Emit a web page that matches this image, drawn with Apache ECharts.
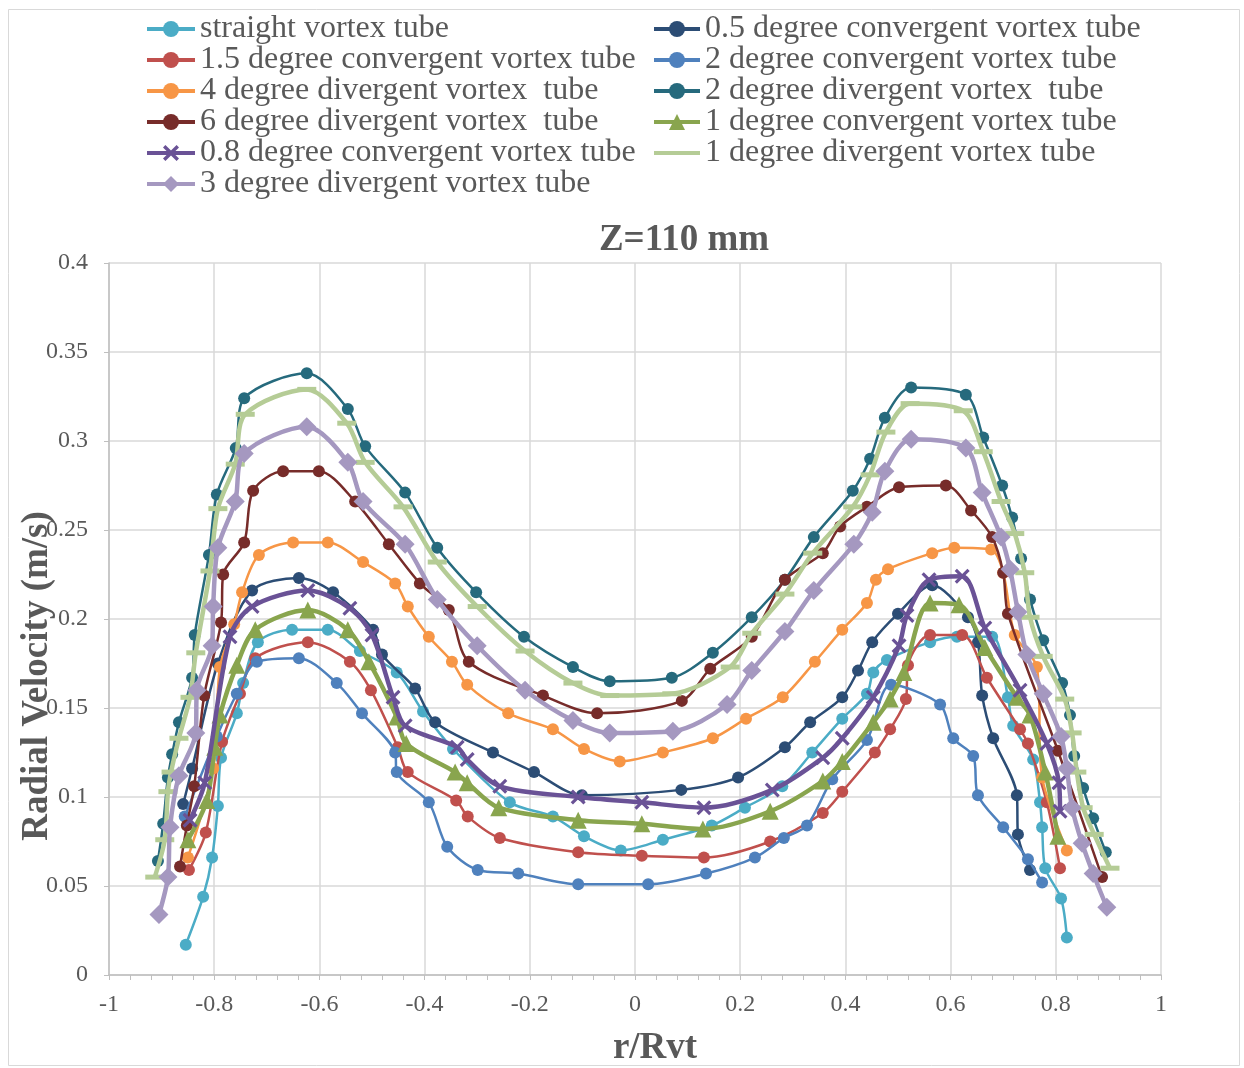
<!DOCTYPE html>
<html><head><meta charset="utf-8">
<script src="https://cdn.jsdelivr.net/npm/echarts@6/dist/echarts.min.js"></script>
<style>html,body{margin:0;padding:0;background:#fff}#c{width:1244px;height:1068px}</style>
</head><body><div id="c"></div>
<script>
// ---- data (r/Rvt, radial velocity m/s) ----
const straightTube = [[-0.854,0.017],[-0.821,0.044],[-0.804,0.066],[-0.793,0.095],[-0.787,0.122],[-0.757,0.147],[-0.745,0.164],[-0.717,0.187],[-0.652,0.194],[-0.584,0.194],[-0.523,0.182],[-0.453,0.170],[-0.403,0.148],[-0.346,0.127],[-0.238,0.097],[-0.156,0.089],[-0.097,0.078],[-0.027,0.070],[0.053,0.076],[0.146,0.084],[0.209,0.094],[0.280,0.106],[0.337,0.125],[0.394,0.144],[0.441,0.158],[0.453,0.170],[0.479,0.177],[0.561,0.187],[0.612,0.190],[0.679,0.190],[0.709,0.156],[0.719,0.140],[0.757,0.121],[0.770,0.097],[0.774,0.083],[0.780,0.060],[0.810,0.043],[0.821,0.021]];
const conv05 = [[-0.859,0.096],[-0.842,0.116],[-0.793,0.175],[-0.728,0.216],[-0.639,0.223],[-0.574,0.215],[-0.498,0.194],[-0.481,0.180],[-0.418,0.161],[-0.380,0.142],[-0.270,0.125],[-0.192,0.114],[-0.101,0.101],[0.088,0.104],[0.196,0.111],[0.285,0.128],[0.333,0.142],[0.394,0.156],[0.424,0.171],[0.451,0.187],[0.500,0.203],[0.565,0.219],[0.633,0.201],[0.652,0.187],[0.660,0.157],[0.681,0.133],[0.726,0.101],[0.728,0.079],[0.751,0.059]];
const conv15 = [[-0.848,0.059],[-0.816,0.080],[-0.785,0.131],[-0.751,0.158],[-0.722,0.178],[-0.622,0.187],[-0.542,0.176],[-0.502,0.160],[-0.451,0.128],[-0.432,0.114],[-0.340,0.098],[-0.318,0.089],[-0.257,0.077],[-0.108,0.069],[0.013,0.067],[0.131,0.066],[0.257,0.075],[0.357,0.091],[0.394,0.103],[0.456,0.125],[0.485,0.138],[0.515,0.155],[0.519,0.174],[0.561,0.191],[0.622,0.191],[0.669,0.167],[0.732,0.138],[0.747,0.130],[0.783,0.097],[0.808,0.060]];
const conv2 = [[-0.856,0.089],[-0.795,0.134],[-0.757,0.158],[-0.719,0.176],[-0.639,0.178],[-0.567,0.164],[-0.519,0.147],[-0.456,0.125],[-0.453,0.114],[-0.392,0.097],[-0.357,0.072],[-0.299,0.059],[-0.222,0.057],[-0.108,0.051],[0.025,0.051],[0.135,0.057],[0.228,0.066],[0.283,0.077],[0.327,0.084],[0.375,0.110],[0.441,0.132],[0.487,0.163],[0.580,0.152],[0.605,0.133],[0.643,0.123],[0.652,0.101],[0.700,0.083],[0.747,0.065],[0.774,0.052]];
const div4 = [[-0.850,0.066],[-0.802,0.116],[-0.789,0.173],[-0.762,0.197],[-0.747,0.215],[-0.715,0.236],[-0.650,0.243],[-0.584,0.243],[-0.517,0.232],[-0.456,0.220],[-0.432,0.207],[-0.392,0.190],[-0.348,0.176],[-0.319,0.163],[-0.241,0.147],[-0.156,0.138],[-0.097,0.127],[-0.029,0.120],[0.053,0.125],[0.148,0.133],[0.211,0.144],[0.281,0.156],[0.342,0.176],[0.394,0.194],[0.441,0.209],[0.458,0.222],[0.481,0.228],[0.565,0.237],[0.607,0.240],[0.677,0.239],[0.700,0.226],[0.722,0.191],[0.764,0.173],[0.774,0.111],[0.821,0.070]];
const div2 = [[-0.907,0.064],[-0.897,0.085],[-0.888,0.111],[-0.880,0.124],[-0.867,0.142],[-0.842,0.167],[-0.837,0.191],[-0.810,0.236],[-0.795,0.270],[-0.759,0.296],[-0.743,0.324],[-0.624,0.338],[-0.546,0.318],[-0.513,0.297],[-0.437,0.271],[-0.376,0.240],[-0.302,0.215],[-0.211,0.190],[-0.118,0.173],[-0.048,0.165],[0.070,0.167],[0.148,0.181],[0.222,0.201],[0.285,0.222],[0.340,0.246],[0.414,0.272],[0.447,0.290],[0.475,0.313],[0.525,0.330],[0.629,0.326],[0.662,0.302],[0.698,0.275],[0.717,0.257],[0.734,0.234],[0.751,0.211],[0.776,0.188],[0.812,0.164],[0.827,0.146],[0.835,0.123],[0.852,0.105],[0.871,0.088],[0.895,0.069]];
const div6 = [[-0.865,0.061],[-0.852,0.084],[-0.838,0.106],[-0.819,0.157],[-0.787,0.198],[-0.783,0.225],[-0.743,0.243],[-0.726,0.272],[-0.669,0.283],[-0.601,0.283],[-0.532,0.266],[-0.468,0.242],[-0.409,0.220],[-0.354,0.205],[-0.316,0.176],[-0.175,0.157],[-0.072,0.147],[0.089,0.154],[0.143,0.172],[0.222,0.190],[0.285,0.222],[0.357,0.237],[0.390,0.252],[0.441,0.263],[0.502,0.274],[0.591,0.275],[0.639,0.261],[0.679,0.246],[0.700,0.226],[0.709,0.203],[0.804,0.126],[0.888,0.055]];
const conv1 = [[-0.850,0.076],[-0.814,0.098],[-0.799,0.128],[-0.789,0.146],[-0.757,0.174],[-0.722,0.194],[-0.622,0.205],[-0.546,0.194],[-0.506,0.176],[-0.453,0.145],[-0.435,0.130],[-0.342,0.114],[-0.319,0.108],[-0.259,0.094],[-0.108,0.087],[0.013,0.085],[0.129,0.082],[0.257,0.092],[0.357,0.109],[0.394,0.120],[0.453,0.142],[0.485,0.155],[0.511,0.170],[0.561,0.209],[0.616,0.208],[0.665,0.184],[0.726,0.156],[0.751,0.146],[0.780,0.114],[0.804,0.078]];
const conv08 = [[-0.846,0.087],[-0.818,0.108],[-0.770,0.190],[-0.728,0.207],[-0.622,0.216],[-0.542,0.206],[-0.500,0.191],[-0.460,0.156],[-0.437,0.140],[-0.338,0.128],[-0.319,0.121],[-0.257,0.106],[-0.108,0.100],[0.013,0.097],[0.131,0.094],[0.261,0.104],[0.357,0.122],[0.394,0.133],[0.453,0.156],[0.502,0.185],[0.517,0.202],[0.559,0.222],[0.622,0.224],[0.665,0.195],[0.732,0.160],[0.783,0.130],[0.806,0.108],[0.808,0.092]];
const div1 = [[-0.913,0.055],[-0.894,0.076],[-0.888,0.103],[-0.882,0.114],[-0.867,0.133],[-0.846,0.156],[-0.835,0.181],[-0.808,0.227],[-0.793,0.262],[-0.760,0.287],[-0.741,0.315],[-0.624,0.329],[-0.548,0.310],[-0.513,0.288],[-0.441,0.263],[-0.376,0.232],[-0.300,0.207],[-0.209,0.182],[-0.118,0.164],[-0.048,0.157],[0.070,0.158],[0.181,0.173],[0.222,0.192],[0.285,0.214],[0.338,0.237],[0.414,0.263],[0.447,0.281],[0.477,0.305],[0.523,0.321],[0.624,0.317],[0.662,0.294],[0.696,0.266],[0.722,0.248],[0.741,0.226],[0.751,0.201],[0.776,0.179],[0.817,0.155],[0.831,0.136],[0.840,0.114],[0.852,0.094],[0.873,0.079],[0.903,0.060]];
const div3 = [[-0.905,0.034],[-0.888,0.055],[-0.884,0.083],[-0.867,0.112],[-0.835,0.136],[-0.833,0.160],[-0.804,0.185],[-0.802,0.207],[-0.793,0.240],[-0.760,0.266],[-0.743,0.293],[-0.624,0.308],[-0.546,0.288],[-0.517,0.266],[-0.437,0.242],[-0.376,0.211],[-0.300,0.185],[-0.209,0.160],[-0.118,0.143],[-0.048,0.136],[0.072,0.137],[0.175,0.152],[0.222,0.171],[0.285,0.193],[0.340,0.216],[0.416,0.242],[0.451,0.260],[0.475,0.283],[0.525,0.301],[0.629,0.296],[0.660,0.271],[0.696,0.246],[0.713,0.228],[0.728,0.204],[0.745,0.180],[0.776,0.158],[0.810,0.134],[0.821,0.116],[0.831,0.094],[0.850,0.074],[0.871,0.057],[0.897,0.038]];

const seriesNames = ['straight vortex tube','0.5 degree convergent vortex tube','1.5 degree convergent vortex tube','2 degree convergent vortex tube','4 degree divergent vortex  tube','2 degree divergent vortex  tube','6 degree divergent vortex  tube','1 degree convergent vortex tube','0.8 degree convergent vortex tube','1 degree divergent vortex tube','3 degree divergent vortex tube'];
const seriesData = [straightTube, conv05, conv15, conv2, div4, div2, div6, conv1, conv08, div1, div3];
const xTicks = {min:-1, max:1, step:0.2};
const yTicks = {min:0, max:0.4, step:0.05};

// ---- styles ----
const X_PATH = 'path://M0,1.5 L1.5,0 L5,3.5 L8.5,0 L10,1.5 L6.5,5 L10,8.5 L8.5,10 L5,6.5 L1.5,10 L0,8.5 L3.5,5 Z';
const styles = [
  {color:'#4BACC6', symbol:'circle', size:12, width:2.5},
  {color:'#2C4D75', symbol:'circle', size:12, width:2.5},
  {color:'#C0504D', symbol:'circle', size:12, width:2.5},
  {color:'#4F81BD', symbol:'circle', size:12, width:2.5},
  {color:'#F79646', symbol:'circle', size:12, width:2.5},
  {color:'#266A7D', symbol:'circle', size:12, width:2.5},
  {color:'#772C2A', symbol:'circle', size:12, width:2.5},
  {color:'#89A54E', symbol:'triangle', size:17, width:4.5},
  {color:'#6A5296', symbol:X_PATH, size:15, width:4.5},
  {color:'#B5CC96', symbol:'rect', size:[19,5], width:4.5},
  {color:'#A598C0', symbol:'diamond', size:19, width:4.5}
];

const series = seriesData.map((d, i) => ({
  name: seriesNames[i], type: 'line', data: d, smooth: 0.3,
  symbol: styles[i].symbol, symbolSize: styles[i].size, showAllSymbol: true,
  lineStyle: {color: styles[i].color, width: styles[i].width},
  itemStyle: {color: styles[i].color},
  emphasis: {disabled: true}, animation: false, z: 2 + i
}));

const legendText = {fontFamily:'Liberation Serif', fontSize:32, color:'#595959', lineHeight:31};
const legendItem = (i) => i === 9 ? {name: seriesNames[i], itemStyle: {opacity: 0}} : seriesNames[i];
const chart = echarts.init(document.getElementById('c'), null, {renderer:'canvas'});
chart.setOption({
  backgroundColor:'#fff',
  animation:false,
  grid:{left:109, right:83, top:263, bottom:93},
  legend:[
    {data:[0,2,4,6,8,10].map(legendItem),
     orient:'vertical', left:140, top:8, itemGap:-1, itemWidth:48, itemHeight:20, selectedMode:false,
     lineStyle:{width:4}, textStyle:legendText},
    {data:[1,3,5,7,9].map(legendItem),
     orient:'vertical', left:647, top:8, itemGap:-1, itemWidth:46, itemHeight:20, selectedMode:false,
     lineStyle:{width:4}, textStyle:legendText}
  ],
  xAxis:{type:'value', min:xTicks.min, max:xTicks.max, interval:xTicks.step,
    axisLine:{show:true, onZero:false, lineStyle:{color:'#BFBFBF', width:1.5}},
    axisTick:{show:true, length:5, lineStyle:{color:'#BFBFBF'}},
    minorTick:{show:true, splitNumber:5, length:5, lineStyle:{color:'#BFBFBF'}},
    axisLabel:{fontFamily:'Liberation Serif', fontSize:24, color:'#595959', margin:18},
    splitLine:{show:true, lineStyle:{color:'#D9D9D9', width:1.5}}},
  yAxis:[
    {type:'value', min:yTicks.min, max:yTicks.max, interval:yTicks.step,
     axisLine:{show:false}, axisTick:{show:false},
     axisLabel:{fontFamily:'Liberation Serif', fontSize:24, color:'#595959', margin:21},
     splitLine:{show:true, lineStyle:{color:'#D9D9D9', width:1.5}}},
    {type:'value', min:yTicks.min, max:yTicks.max, interval:yTicks.step, position:'left',
     axisLine:{show:true, onZero:true, lineStyle:{color:'#BFBFBF', width:1.5}},
     axisTick:{show:true, length:5, lineStyle:{color:'#BFBFBF'}},
     axisLabel:{show:false}, splitLine:{show:false}}
  ],
  graphic:[
    {type:'rect', shape:{x:8.5, y:9.5, width:1231, height:1056}, style:{fill:'none', stroke:'#D9D9D9', lineWidth:1}, z:-1},
    {type:'text', x:684, y:240, style:{text:'Z=110 mm', font:'bold 37px "Liberation Serif"', fill:'#595959', textAlign:'center', textVerticalAlign:'middle'}},
    {type:'text', x:37, y:676, rotation:Math.PI/2, style:{text:'Radial Velocity (m/s)', font:'bold 37px "Liberation Serif"', fill:'#595959', textAlign:'center', textVerticalAlign:'middle'}},
    {type:'text', x:655, y:1048, style:{text:'r/Rvt', font:'bold 37px "Liberation Serif"', fill:'#595959', textAlign:'center', textVerticalAlign:'middle'}}
  ],
  series: series
});
</script></body></html>
